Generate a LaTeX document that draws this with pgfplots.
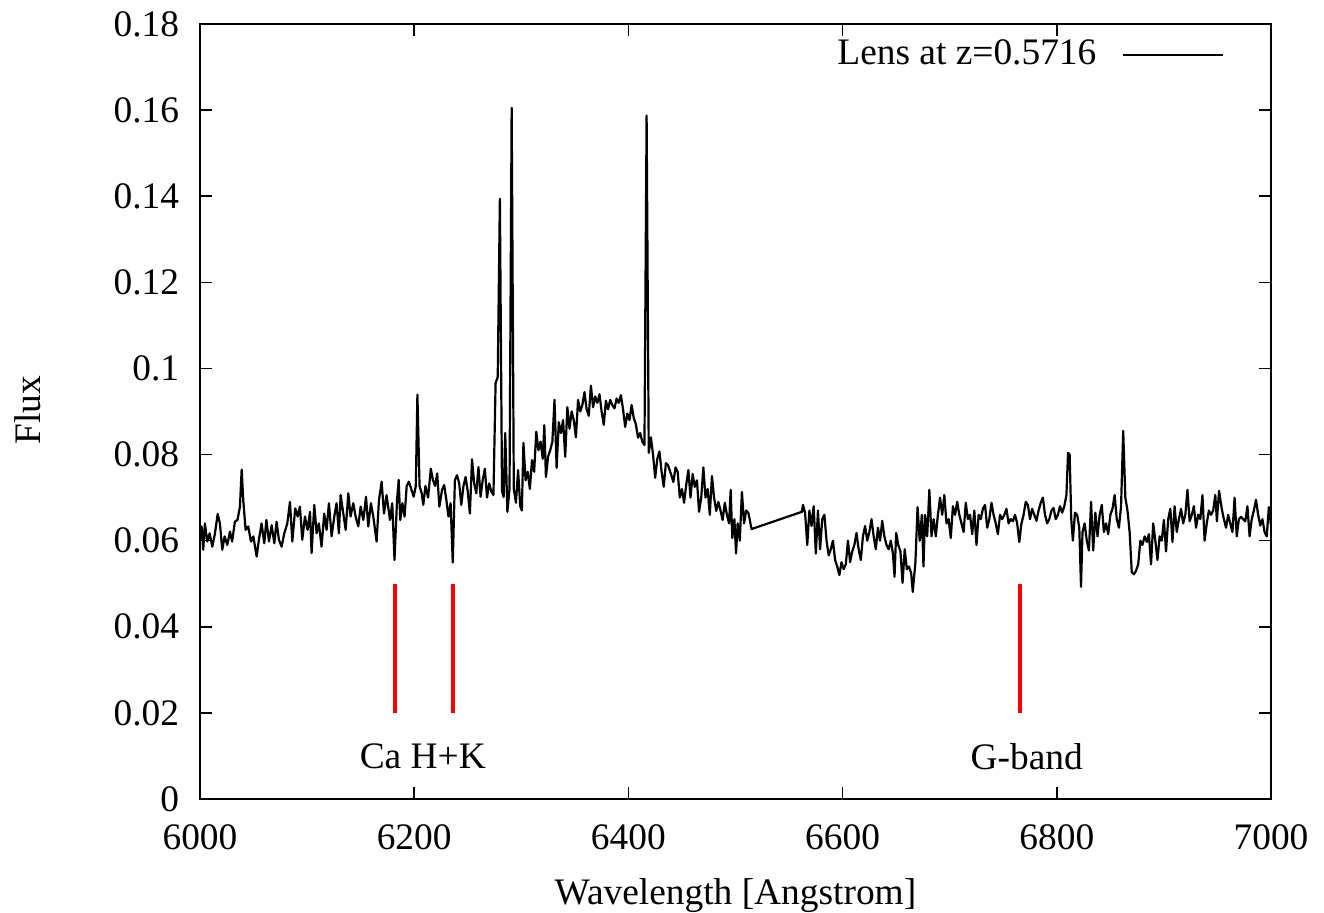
\documentclass[border=0pt]{standalone}
\usepackage{fontspec}
\setmainfont{Liberation Serif}
\usepackage{pgfplots}
\pgfplotsset{compat=1.18}
\usepackage{pgfplotstable}

% spectrum: wavelength [A], flux
\pgfplotstableread{
lam flux
6000 0.0602
6001.5 0.0633
6003 0.0579
6004.6 0.0640
6006.8 0.0598
6009 0.0617
6011.5 0.0586
6014 0.0617
6016.5 0.0662
6018.6 0.0640
6020.8 0.0579
6023 0.0610
6025.5 0.0590
6028 0.0621
6030 0.0598
6032.6 0.0644
6035 0.0648
6037.3 0.0679
6038.9 0.0765
6040.4 0.0694
6042.6 0.0625
6045 0.0633
6047.6 0.0598
6049.8 0.0610
6052.9 0.0563
6055 0.0602
6057.5 0.0640
6060 0.0594
6062 0.0648
6064.4 0.0598
6066.9 0.0636
6069.4 0.0594
6071.5 0.0644
6073.7 0.0602
6076.2 0.0586
6078.7 0.0617
6081.5 0.0640
6084 0.0690
6086.2 0.0598
6088.9 0.0675
6091.2 0.0656
6093.3 0.0679
6095.5 0.0602
6098 0.0656
6100.5 0.0625
6102.7 0.0667
6104.2 0.0571
6106.7 0.0683
6108.9 0.0617
6111 0.0640
6113.5 0.0586
6116 0.0663
6118.2 0.0625
6120.4 0.0687
6122.9 0.0610
6125.4 0.0656
6127.5 0.0687
6129.7 0.0617
6131.3 0.0706
6133.8 0.0663
6136 0.0625
6138.5 0.0710
6140.6 0.0656
6143.1 0.0687
6145.3 0.0656
6147.8 0.0633
6150 0.0679
6152.5 0.0648
6155 0.0702
6157.1 0.0633
6159.6 0.0687
6161.8 0.0656
6164.9 0.0598
6167.1 0.0694
6169.6 0.0737
6171.8 0.0663
6174.2 0.0706
6177.4 0.0648
6179.5 0.0687
6181.6 0.0555
6184 0.0695
6185.5 0.0741
6187 0.0648
6189 0.0687
6191 0.0656
6193 0.0727
6195 0.0737
6197 0.0722
6199.5 0.0702
6201.5 0.0727
6203 0.0939
6205 0.0727
6207 0.0710
6208.5 0.0683
6210.5 0.0727
6213 0.0700
6215.5 0.0767
6217.5 0.0741
6219.5 0.0727
6221.5 0.0756
6223.5 0.0679
6226 0.0718
6228 0.0729
6230 0.0695
6232 0.0656
6234 0.0687
6236 0.0549
6238 0.0741
6240 0.0752
6242 0.0733
6244 0.0683
6246 0.0727
6248 0.0748
6250 0.0714
6252 0.0663
6254 0.0789
6256 0.0733
6258 0.0710
6260 0.0771
6262 0.0702
6264 0.0741
6266 0.0767
6268 0.0700
6270 0.0733
6272 0.0714
6274 0.0706
6276 0.0966
6278 0.0980
6280 0.1394
6282 0.0715
6283.5 0.0701
6285 0.0850
6287 0.0667
6289 0.0720
6291 0.1605
6293 0.0720
6295 0.0688
6297 0.0764
6299 0.0680
6300.5 0.0670
6302 0.0827
6304 0.0740
6306 0.0760
6308 0.0720
6310 0.0787
6312 0.0760
6314 0.0853
6316 0.0810
6318 0.0830
6320 0.0790
6321.5 0.0868
6323 0.0748
6325 0.0795
6327 0.0810
6329 0.0830
6331 0.0927
6333 0.0769
6335 0.0875
6337 0.0850
6339 0.0880
6341 0.0795
6343 0.0910
6345 0.0860
6347 0.0900
6349 0.0880
6351 0.0840
6353 0.0927
6355 0.0900
6357 0.0915
6359 0.0945
6361 0.0905
6363 0.0890
6365 0.0960
6367 0.0910
6369 0.0935
6371 0.0920
6373 0.0940
6375 0.0900
6377 0.0869
6379 0.0925
6381 0.0905
6383 0.0927
6385 0.0915
6387 0.0907
6389 0.0930
6391 0.0920
6393 0.0938
6395 0.0905
6397 0.0864
6399 0.0895
6401 0.0880
6403 0.0915
6405 0.0885
6407 0.0870
6409 0.0839
6411 0.0850
6413 0.0830
6415 0.0822
6417 0.1587
6419 0.0804
6421 0.0840
6423 0.0800
6425 0.0746
6427 0.0790
6429 0.0807
6431 0.0760
6433 0.0725
6435 0.0780
6437 0.0775
6440 0.0753
6442 0.0736
6444 0.0770
6446 0.0760
6448 0.0700
6450 0.0720
6452 0.0688
6454 0.0730
6456 0.0764
6458 0.0700
6460 0.0755
6462 0.0725
6464 0.0740
6466 0.0667
6468 0.0700
6470 0.0770
6472 0.0700
6474 0.0720
6476 0.0660
6478 0.0750
6480 0.0700
6482 0.0669
6484 0.0690
6486 0.0670
6488 0.0648
6490 0.0688
6492 0.0660
6494 0.0640
6495.5 0.0718
6497 0.0606
6499 0.0650
6500.5 0.0570
6502 0.0640
6504 0.0600
6506 0.0713
6508 0.0640
6510 0.0670
6512 0.0665
6515 0.0627
6562 0.0667
6563 0.0683
6565 0.0664
6567 0.0590
6569 0.0670
6571 0.0634
6573 0.0680
6575 0.0570
6577 0.0670
6579 0.0580
6581 0.0650
6583 0.0660
6585 0.0600
6587 0.0566
6589 0.0580
6591 0.0600
6593 0.0555
6595 0.0540
6597 0.0520
6599 0.0550
6601 0.0534
6603 0.0545
6605 0.0600
6607 0.0550
6609 0.0575
6611 0.0590
6613 0.0618
6615 0.0580
6617 0.0555
6619 0.0610
6621 0.0634
6623 0.0600
6625 0.0620
6627 0.0650
6629 0.0610
6631 0.0580
6633 0.0630
6635 0.0600
6637 0.0646
6639 0.0610
6641 0.0590
6643 0.0580
6645 0.0600
6647 0.0570
6648.5 0.0516
6650 0.0618
6652 0.0590
6654 0.0575
6656 0.0502
6658 0.0580
6660 0.0534
6662 0.0540
6664 0.0525
6665.5 0.0481
6668 0.0550
6670 0.0678
6672 0.0600
6674 0.0660
6675.5 0.0540
6677 0.0660
6679 0.0610
6681 0.0718
6683 0.0610
6685 0.0650
6687 0.0610
6689 0.0660
6691 0.0700
6693 0.0660
6695 0.0706
6697 0.0640
6699 0.0650
6701 0.0606
6703 0.0680
6705 0.0660
6707 0.0690
6709 0.0660
6711 0.0640
6713 0.0620
6715 0.0688
6717 0.0650
6719 0.0660
6721 0.0615
6723 0.0670
6725 0.0590
6727 0.0660
6729 0.0650
6731 0.0674
6733 0.0683
6735 0.0630
6737 0.0650
6739 0.0688
6741 0.0660
6743 0.0640
6745 0.0615
6747 0.0660
6749 0.0650
6751 0.0660
6753 0.0674
6755 0.0640
6757 0.0650
6759 0.0645
6761 0.0660
6763 0.0640
6765 0.0597
6767 0.0640
6769 0.0660
6771 0.0690
6773 0.0683
6775 0.0650
6777 0.0674
6779 0.0660
6781 0.0646
6783 0.0670
6785 0.0688
6787 0.0700
6789 0.0660
6791 0.0640
6793 0.0650
6795 0.0670
6797 0.0676
6799 0.0650
6801 0.0660
6803 0.0680
6805 0.0665
6807 0.0680
6809 0.0706
6810.5 0.0804
6812 0.0800
6813.5 0.0650
6815 0.0600
6817 0.0665
6819 0.0660
6821 0.0630
6822.6 0.0493
6824 0.0620
6826 0.0640
6828 0.0600
6830 0.0577
6832 0.0690
6834 0.0577
6836 0.0665
6838 0.0610
6840 0.0660
6842 0.0683
6844 0.0620
6846 0.0640
6848 0.0615
6850 0.0660
6852 0.0674
6854 0.0706
6856 0.0650
6858 0.0630
6860 0.0680
6862 0.0855
6864 0.0700
6866 0.0670
6868 0.0620
6870 0.0527
6872 0.0522
6874 0.0530
6876 0.0545
6878 0.0600
6880 0.0590
6882 0.0610
6884 0.0597
6886 0.0615
6888 0.0545
6890 0.0640
6892 0.0600
6894 0.0555
6896 0.0610
6898 0.0600
6900 0.0648
6902 0.0575
6904 0.0650
6906 0.0674
6908 0.0597
6910 0.0680
6912 0.0620
6914 0.0650
6916 0.0674
6918 0.0640
6920 0.0660
6922 0.0718
6924 0.0645
6926 0.0660
6928 0.0680
6930 0.0630
6932 0.0660
6934 0.0650
6936 0.0706
6938 0.0600
6940 0.0640
6942 0.0670
6944 0.0660
6946 0.0670
6948 0.0706
6949.5 0.0645
6951.5 0.0716
6954 0.0674
6956 0.0650
6958 0.0630
6960 0.0660
6962 0.0640
6964 0.0620
6966 0.0700
6968 0.0610
6970 0.0650
6972 0.0655
6974 0.0650
6976 0.0645
6978 0.0680
6980 0.0610
6982 0.0650
6984 0.0670
6986 0.0695
6988 0.0660
6990 0.0635
6992 0.0650
6994 0.0620
6996 0.0610
6998 0.0678
7000 0.0635
}\spectrum

\begin{document}
\fontsize{18.7}{22}\selectfont
\begin{tikzpicture}
  \begin{axis}[
      scale only axis,
      width=535.5pt, height=387.5pt,
      xmin=6000, xmax=7000,
      ymin=0, ymax=0.18,
      xtick={6000,6200,6400,6600,6800,7000},
      ytick={0,0.02,0.04,0.06,0.08,0.1,0.12,0.14,0.16,0.18},
      scaled ticks=false,
      /pgf/number format/1000 sep={},
      /pgf/number format/fixed,
      /pgf/number format/assume math mode=true,
      tick align=inside,
      major tick length=6pt,
      axis line style={line width=1pt},
      every tick/.style={black, line width=0.8pt},
      xticklabel style={yshift=-6.5pt},
      yticklabel style={xshift=-4pt},
      xlabel={Wavelength [Angstrom]},
      ylabel={Flux},
      xlabel style={at={(axis description cs:0.5,-0.1245)}, anchor=center},
      ylabel style={at={(axis description cs:-0.1606,0.502)}, anchor=center},
      legend plot pos=right,
      legend style={draw=none, fill=none, at={(axis description cs:0.957,0.96)},
        anchor=east, inner sep=0pt},
      legend image code/.code={\path (0pt,0pt); \draw[#1] (11pt,0pt) -- (61pt,0pt);},
      legend cell align=right,
    ]
    \addplot[black, line width=1.1pt, line join=round] table[x=lam, y=flux] {\spectrum};
    \addlegendentry{Lens at z=0.5716}

    % line markers
    \addplot[red, line width=2pt, forget plot] coordinates {(6182,0.02) (6182,0.05)};
    \addplot[red, line width=2pt, forget plot] coordinates {(6236,0.02) (6236,0.05)};
    \addplot[red, line width=2pt, forget plot] coordinates {(6765.5,0.02) (6765.5,0.05)};

    \node at (axis cs:6208,0.0098) {Ca H+K};
    \node at (axis cs:6772,0.0098) {G-band};

    \coordinate (bl) at (rel axis cs:0,0);
    \coordinate (tr) at (rel axis cs:1,1);
  \end{axis}
  \pgfresetboundingbox
  \path[use as bounding box] ([xshift=-100pt,yshift=-57pt]bl) rectangle ([xshift=26.5pt,yshift=12pt]tr);
\end{tikzpicture}
\end{document}
